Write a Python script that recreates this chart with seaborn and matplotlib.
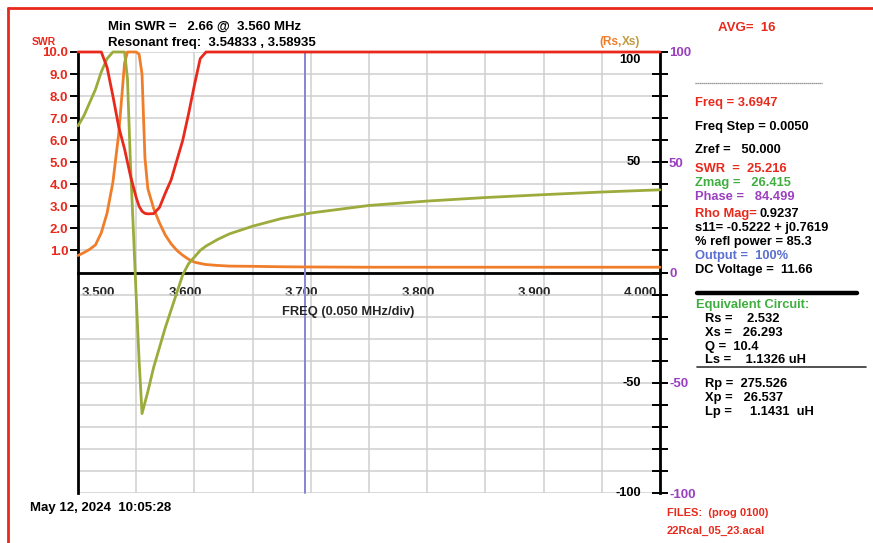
import numpy as np
import pandas as pd
import matplotlib
matplotlib.use("Agg")
import matplotlib.pyplot as plt
import matplotlib.transforms as mtransforms
from matplotlib.lines import Line2D
import seaborn as sns

# ---------------- data ----------------
freq = [3.500, 3.505, 3.510, 3.515, 3.520, 3.525, 3.530, 3.535, 3.540, 3.5425,
        3.545, 3.5475, 3.550, 3.5525, 3.555, 3.5575, 3.560, 3.565, 3.570, 3.575,
        3.580, 3.585, 3.590, 3.595, 3.600, 3.605, 3.610, 3.620, 3.630, 3.650,
        3.675, 3.700, 3.750, 3.800, 3.850, 3.900, 3.950, 4.000]
swr = [10.0, 10.0, 10.0, 10.0, 10.0, 9.3, 8.0, 6.6, 5.6, 5.0,
       4.4, 3.9, 3.4, 3.0, 2.78, 2.68, 2.66, 2.67, 2.95, 3.6,
       4.2, 5.1, 6.0, 7.2, 8.5, 9.7, 10.0, 10.0, 10.0, 10.0,
       10.0, 10.0, 10.0, 10.0, 10.0, 10.0, 10.0, 10.0]
rs = [7.7, 9.0, 10.5, 12.5, 18.0, 27.0, 41.0, 63.0, 95.0, 100.0,
      100.0, 100.0, 100.0, 99.0, 90.0, 52.0, 38.0, 29.0, 22.5, 17.0,
      13.0, 10.0, 7.8, 6.0, 4.7, 4.1, 3.6, 3.2, 2.9, 2.8,
      2.6, 2.5, 2.4, 2.4, 2.4, 2.4, 2.4, 2.4]
xs = [66.5, 71.0, 77.0, 83.0, 91.0, 97.0, 100.0, 100.0, 100.0, 88.0,
      50.0, 20.0, -11.0, -40.0, -64.0, -59.0, -54.0, -43.0, -34.0, -25.0,
      -17.0, -9.0, -1.0, 4.0, 7.0, 10.0, 12.0, 15.0, 17.5, 21.0,
      24.5, 27.0, 30.4, 32.4, 34.0, 35.3, 36.5, 37.5]
marker_freq = 3.6947

x_major = [3.5, 3.6, 3.7, 3.8, 3.9, 4.0]
x_minor = [3.55, 3.65, 3.75, 3.85, 3.95]
x_labels = ["3.500", "3.600", "3.700", "3.800", "3.900", "4.000"]
swr_ticks = [1, 2, 3, 4, 5, 6, 7, 8, 9, 10]
swr_labels = ["1.0", "2.0", "3.0", "4.0", "5.0", "6.0", "7.0", "8.0", "9.0", "10.0"]
rx_ticks = [-100, -90, -80, -70, -60, -50, -40, -30, -20, -10, 0,
            10, 20, 30, 40, 50, 60, 70, 80, 90, 100]
rx_outer_labels = [100, 50, 0, -50, -100]
rx_inner_labels = [100, 50, -50, -100]

# ---------------- style ----------------
RED = "#e8291c"
ORANGE = "#f07d2a"
OLIVE = "#9cab3c"
PURPLE = "#9b3fc1"
BLUE = "#8585d4"
GREEN = "#3fae3f"
GRID = "#cfcfcf"

sns.set_style("white")
plt.rcParams["font.family"] = ["Liberation Sans", "DejaVu Sans"]
plt.rcParams["font.weight"] = "bold"

W, H = 873, 543
fig = plt.figure(figsize=(W / 100, H / 100), dpi=100)
fig.patch.set_facecolor("white")


def fx(x):
    return x / W


def fy(y):
    return 1 - y / H


def ftext(x, y, s, color="black", size=9.3, ha="left", va="center"):
    fig.text(fx(x), fy(y), s, color=color, fontsize=size, ha=ha, va=va,
             fontweight="bold")


ax = fig.add_axes([fx(78), fy(493), (660 - 78) / W, (493 - 52) / H])
df = pd.DataFrame({"freq": freq, "Rs": rs, "Xs": xs, "SWR": swr})

ax.set_xlim(3.5, 4.0)
ax.set_ylim(-100, 100)

sns.lineplot(data=df, x="freq", y="Rs", ax=ax, color=ORANGE, lw=2.0,
             legend=False, sort=False)
sns.lineplot(data=df, x="freq", y="Xs", ax=ax, color=OLIVE, lw=2.0,
             legend=False, sort=False)
ax.axvline(marker_freq, color=BLUE, lw=1.4, zorder=1.5)

ax2 = ax.twinx()
ax2.set_ylim(-10, 10)
sns.lineplot(data=df, x="freq", y="SWR", ax=ax2, color=RED, lw=2.0,
             legend=False, sort=False)
for l in ax.lines + ax2.lines:
    l.set_clip_on(False)

# grid
ax.set_xticks(x_major)
ax.set_xticks(x_minor, minor=True)
ax.set_yticks(rx_ticks)
ax.grid(True, which="both", axis="x", color=GRID, lw=1.1)
ax.grid(True, which="major", axis="y", color=GRID, lw=1.1)
ax.set_axisbelow(True)

# spines
ax.spines["top"].set_visible(False)
ax.spines["bottom"].set_position(("data", 0))
for s in ["left", "right", "bottom"]:
    ax.spines[s].set_color("black")
    ax.spines[s].set_linewidth(2.0)
    ax.spines[s].set_zorder(0.9)
for s in ax2.spines.values():
    s.set_visible(False)

# right axis (Rs, Xs)
ax.yaxis.tick_right()
ax.set_yticklabels([str(v) if v in rx_outer_labels else "" for v in rx_ticks])
ax.tick_params(axis="y", which="major", direction="inout", length=11,
               width=1.4, color="black", labelcolor=PURPLE, labelsize=9.5, pad=1)
inner_off = {100: -8}
for v in rx_inner_labels:
    t = ax.text(0.967, v, str(v), transform=ax.get_yaxis_transform(),
                ha="right", va="center", fontsize=9.3, fontweight="bold",
                color="black")
    if v in inner_off:
        t.set_transform(t.get_transform() +
                        mtransforms.ScaledTranslation(0, inner_off[v] / 100,
                                                      fig.dpi_scale_trans))

# x axis
ax.set_xticklabels(x_labels)
ax.tick_params(axis="x", which="major", direction="inout", length=11,
               width=1.4, color="black", labelsize=9.5, pad=5)
ax.tick_params(axis="x", which="minor", direction="inout", length=7,
               width=1.2, color="black")
xt = ax.get_xticklabels()
for i, lab in enumerate(xt):
    lab.set_fontweight("bold")
    if i == 0:
        lab.set_ha("left")
        lab.set_transform(lab.get_transform() +
                          mtransforms.ScaledTranslation(4 / 100, 0, fig.dpi_scale_trans))
    elif i == len(xt) - 1:
        lab.set_ha("right")
        lab.set_transform(lab.get_transform() +
                          mtransforms.ScaledTranslation(-3 / 100, 0, fig.dpi_scale_trans))
    else:
        lab.set_transform(lab.get_transform() +
                          mtransforms.ScaledTranslation(-9 / 100, 0, fig.dpi_scale_trans))
ax.set_xlabel("")
ax.set_ylabel("")

# left axis (SWR)
ax2.yaxis.tick_left()
ax2.set_yticks(swr_ticks)
ax2.set_yticklabels(swr_labels)
ax2.tick_params(axis="y", direction="out", length=6, width=1.4, color="black",
                labelcolor=RED, labelsize=9.5, pad=1)
ax2.set_ylabel("")
ax2.grid(False)

ax.text(0.464, -18, "FREQ (0.050 MHz/div)",
        transform=mtransforms.blended_transform_factory(ax.transAxes, ax.transData),
        ha="center", va="center", fontsize=9.3, fontweight="bold")

# ---------------- header / side panel texts ----------------
ftext(108, 27, "Min SWR =   2.66 @  3.560 MHz", size=9.5)
ftext(108, 43, "Resonant freq:  3.54833 , 3.58935", size=9.5)
ftext(44, 42, "SWR", color=RED, size=7.5, ha="center")
fig.text(fx(622), fy(42), "(Rs,", color=ORANGE, fontsize=8.5, ha="right",
         va="center", fontweight="bold")
fig.text(fx(622), fy(42), "Xs)", color="#c09a40", fontsize=8.5, ha="left",
         va="center", fontweight="bold")
ftext(747, 28, "AVG=  16", color=RED, size=9.5, ha="center")

fig.add_artist(Line2D([fx(695), fx(822)], [fy(83), fy(83)], color="#777777",
                      lw=0.9, ls=(0, (1, 0.6))))
ftext(695, 103, "Freq = 3.6947", color=RED)
ftext(695, 127, "Freq Step = 0.0050")
ftext(695, 150, "Zref =   50.000")
ftext(695, 169, "SWR  =  25.216", color=RED)
ftext(695, 183, "Zmag =   26.415", color=GREEN)
ftext(695, 197, "Phase =   84.499", color=PURPLE)
ftext(695, 214, "Rho Mag=", color=RED)
ftext(759, 214, "0.9237")
ftext(695, 228, "s11= -0.5222 + j0.7619")
ftext(695, 242, "% refl power = 85.3")
ftext(695, 256, "Output =  100%", color="#5a6fd0")
ftext(695, 270, "DC Voltage =  11.66")
fig.add_artist(Line2D([fx(697), fx(857)], [fy(293), fy(293)], color="black", lw=3.2))
ftext(696, 305, "Equivalent Circuit:", color=GREEN)
ftext(705, 319, "Rs =    2.532")
ftext(705, 333, "Xs =   26.293")
ftext(705, 347, "Q =  10.4")
ftext(705, 360, "Ls =    1.1326 uH")
fig.add_artist(Line2D([fx(697), fx(866)], [fy(367), fy(367)], color="#333333", lw=1.2))
ftext(705, 384, "Rp =  275.526")
ftext(705, 398, "Xp =   26.537")
ftext(705, 412, "Lp =     1.1431  uH")

ftext(30, 508, "May 12, 2024  10:05:28", size=9.5)
ftext(667, 513, "FILES:  (prog 0100)", color=RED, size=8)
ftext(667, 531, "22Rcal_05_23.acal", color=RED, size=8)

# red frame (left and top)
fig.add_artist(Line2D([fx(8), fx(8)], [fy(8), 0], color=RED, lw=2))
fig.add_artist(Line2D([fx(8), 1], [fy(8), fy(8)], color=RED, lw=2))

fig.savefig("out.png", dpi=100, facecolor="white")
